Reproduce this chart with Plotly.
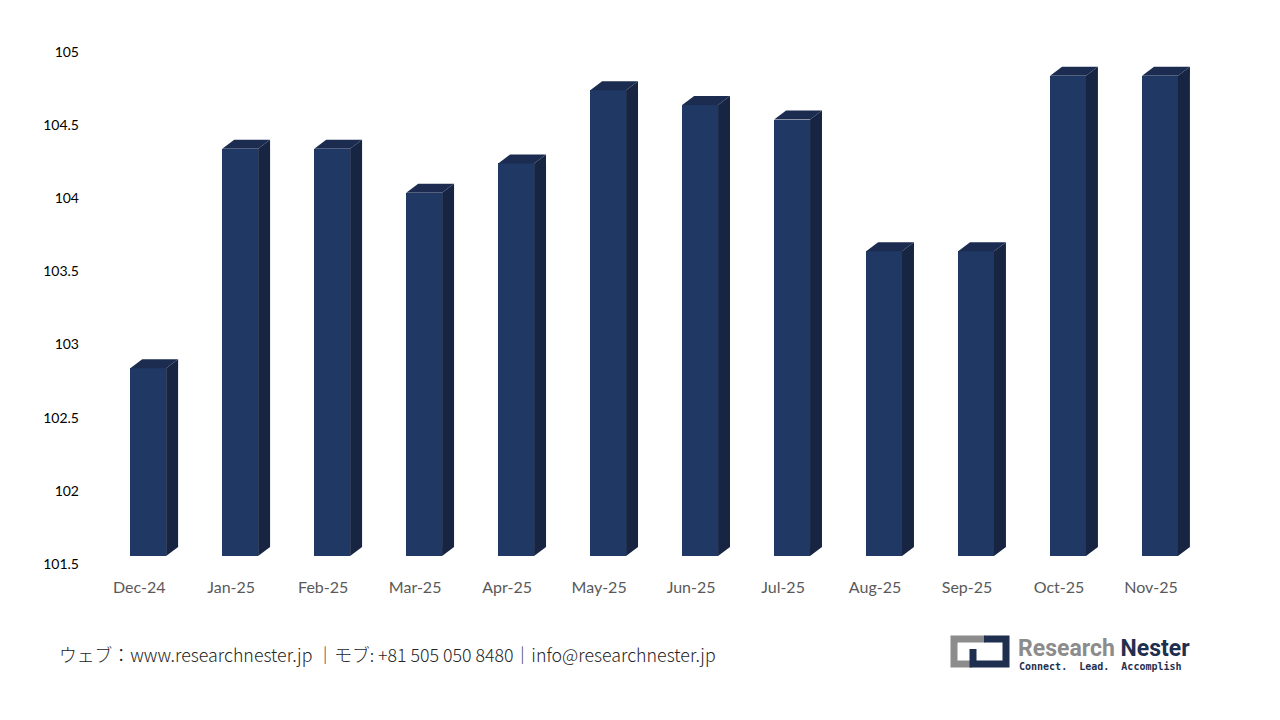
import plotly.graph_objects as go

# data
months = ["Dec-24", "Jan-25", "Feb-25", "Mar-25", "Apr-25", "May-25",
          "Jun-25", "Jul-25", "Aug-25", "Sep-25", "Oct-25", "Nov-25"]
values = [102.9, 104.4, 104.4, 104.1, 104.3, 104.8,
          104.7, 104.6, 103.7, 103.7, 104.9, 104.9]
y_ticks = [101.5, 102, 102.5, 103, 103.5, 104, 104.5, 105]

FRONT = "#203864"
SIDE = "#172543"
TOP = "#1b2c50"

# fake 3d geometry (data units)
floor = 101.616
dx, dy = 0.13, 0.0615
bar_w = 0.39
shift = 0.098

L, T, W, H = 84, 52, 1113, 512


def px(xp, yp):
    return (xp - L) / W, (T + H - yp) / H


fig = go.Figure()

xs = [i + shift for i in range(len(months))]
fig.add_trace(go.Bar(
    x=xs, y=[v - floor for v in values], base=floor - dy,
    width=bar_w, marker=dict(color=FRONT, line=dict(width=0)),
    hoverinfo="skip", showlegend=False,
))

for xc, v in zip(xs, values):
    xl, xr = xc - bar_w / 2, xc + bar_w / 2
    # side face
    fig.add_trace(go.Scatter(
        x=[xr, xr + dx, xr + dx, xr, xr], y=[floor - dy, floor, v, v - dy, floor - dy],
        fill="toself", fillcolor=SIDE, mode="none",
        hoverinfo="skip", showlegend=False,
    ))
    # top face
    fig.add_trace(go.Scatter(
        x=[xl, xl + dx, xr + dx, xr, xl], y=[v - dy, v, v, v - dy, v - dy],
        fill="toself", fillcolor=TOP, mode="none",
        hoverinfo="skip", showlegend=False,
    ))

fig.update_xaxes(
    range=[-0.6, 11.5], tickvals=list(range(len(months))), ticktext=months,
    showgrid=False, zeroline=False, showline=False, ticks="",
    tickfont=dict(family="Lato", size=16, color="#595959"),
    ticklabelstandoff=12,
)
fig.update_yaxes(
    range=[101.5, 105], tickvals=y_ticks, ticktext=[f"{t:g}" for t in y_ticks],
    showgrid=False, zeroline=False, showline=False, ticks="",
    tickfont=dict(family="Lato", size=14, color="#000000"),
    ticklabelstandoff=4,
)

annotations = []
fx, fy = px(57, 654)
annotations.append(dict(
    x=fx, y=fy, xref="paper", yref="paper", xanchor="left", yanchor="middle",
    text="ウェブ：www.researchnester.jp ｜モブ: +81 505 050 8480｜info@researchnester.jp",
    showarrow=False, font=dict(family="Noto Sans CJK JP", size=17.8, color="#262626", weight=300),
))
rx, ry = px(1016, 648)
annotations.append(dict(
    x=rx, y=ry, xref="paper", yref="paper", xanchor="left", yanchor="middle",
    text="<b><span style='color:#8c8c8c'>Research</span> <span style='color:#1f2f4f'>Nester</span></b>",
    showarrow=False, font=dict(family="Roboto", size=23),
))
cx, cy = px(1017, 666)
annotations.append(dict(
    x=cx, y=cy, xref="paper", yref="paper", xanchor="left", yanchor="middle",
    text="<b>Connect.  Lead.  Accomplish</b>",
    showarrow=False, font=dict(family="DejaVu Sans Mono", size=10, color="#1f2f4f"),
))


def path(points):
    return "M " + " L ".join(f"{px(a, b)[0]},{px(a, b)[1]}" for a, b in points)


shapes = [
    dict(type="path", xref="paper", yref="paper",
         path=path([(985, 639), (954, 639), (954, 664), (972, 664)]),
         line=dict(color="#8c8c8c", width=7)),
    dict(type="path", xref="paper", yref="paper",
         path=path([(984, 639), (1006, 639), (1006, 664), (973, 664), (973, 649)]),
         line=dict(color="#1f2f4f", width=7)),
]

fig.update_layout(
    width=1280, height=720,
    margin=dict(l=L, r=1280 - L - W, t=T, b=720 - T - H),
    paper_bgcolor="white", plot_bgcolor="white",
    bargap=0, annotations=annotations, shapes=shapes,
)

fig.write_html("out.html", config={"displayModeBar": False},
               post_script="document.body.style.margin='0';")
